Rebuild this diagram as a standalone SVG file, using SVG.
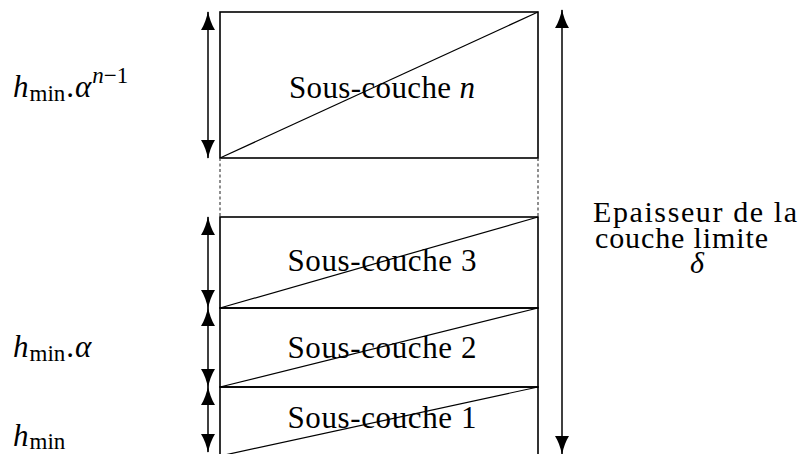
<svg xmlns="http://www.w3.org/2000/svg" width="801" height="454" viewBox="0 0 801 454">
<style>
.box{fill:none;stroke:#000;stroke-width:1.6}
.diag{fill:none;stroke:#000;stroke-width:1.2}
.arr{fill:none;stroke:#000;stroke-width:1.5;marker-start:url(#ah);marker-end:url(#ah)}
.dash{fill:none;stroke:#444;stroke-width:1.2;stroke-dasharray:3 2.5}
.it{font-style:italic}
.lbl{text-anchor:middle}
</style>
<defs>
<marker id="ah" viewBox="0 -7 19 14" refX="18" refY="0" markerWidth="19" markerHeight="14" markerUnits="userSpaceOnUse" orient="auto-start-reverse">
<path d="M0,-7 Q8,-2 19,0 Q8,2 0,7 Z" fill="#000"/>
</marker>
</defs>

<g font-family="'Liberation Serif', 'DejaVu Serif', serif" font-size="31" fill="#000">
<g id="layer-n">
<rect class="box" x="220" y="12" width="318" height="146"/>
<line class="diag" x1="220" y1="158" x2="538" y2="12"/>
<text class="lbl" x="382" y="98" textLength="186" lengthAdjust="spacing">Sous-couche <tspan class="it">n</tspan></text>
</g>

<g id="layer-3">
<rect class="box" x="220" y="217" width="318" height="91"/>
<line class="diag" x1="220" y1="308" x2="538" y2="217"/>
<text class="lbl" x="382" y="271" textLength="189" lengthAdjust="spacing">Sous-couche 3</text>
</g>

<g id="layer-2">
<rect class="box" x="220" y="308" width="318" height="79"/>
<line class="diag" x1="220" y1="387" x2="538" y2="308"/>
<text class="lbl" x="382" y="358" textLength="189" lengthAdjust="spacing">Sous-couche 2</text>
</g>

<g id="layer-1">
<rect class="box" x="220" y="387" width="318" height="69"/>
<line class="diag" x1="220" y1="456" x2="538" y2="387"/>
<text class="lbl" x="382" y="428" textLength="189" lengthAdjust="spacing">Sous-couche 1</text>
</g>

<g id="label-hn">
<text x="13" y="97"><tspan class="it">h</tspan><tspan font-size="23" dx="1" dy="4">min</tspan><tspan dx="1" dy="-4">.</tspan><tspan class="it" dx="1">α</tspan><tspan font-size="23" dx="1" dy="-14"><tspan class="it">n</tspan>−1</tspan></text>
</g>

<g id="label-h2">
<text x="13" y="357"><tspan class="it">h</tspan><tspan font-size="23" dx="1" dy="4">min</tspan><tspan dx="1" dy="-4">.</tspan><tspan class="it" dx="1">α</tspan></text>
</g>

<g id="label-h1">
<text x="13" y="446"><tspan class="it">h</tspan><tspan font-size="23" dx="1" dy="3">min</tspan></text>
</g>

<g id="label-delta" font-size="30">
<text x="593" y="222" textLength="204" lengthAdjust="spacing">Epaisseur de la</text>
<text x="595" y="248" textLength="173" lengthAdjust="spacing">couche limite</text>
<text class="it" x="690" y="273">δ</text>
</g>
</g>

<g id="connectors">
<line class="dash" x1="220" y1="158" x2="220" y2="217"/>
<line class="dash" x1="538" y1="158" x2="538" y2="217"/>
<line class="arr" x1="208" y1="12" x2="208" y2="158"/>
<line class="arr" x1="208" y1="217" x2="208" y2="308"/>
<line class="arr" x1="208" y1="308" x2="208" y2="387"/>
<line class="arr" x1="208" y1="387" x2="208" y2="452"/>
<line class="arr" x1="562" y1="10" x2="562" y2="454"/>
</g>
</svg>
